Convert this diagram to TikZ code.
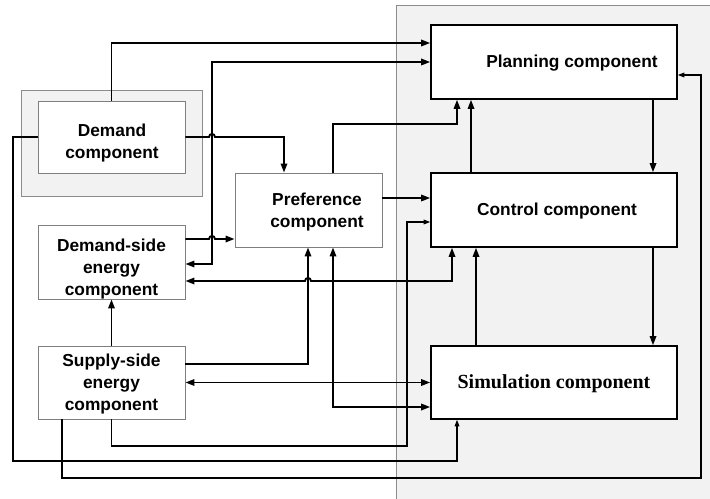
\documentclass[tikz,border=0pt]{standalone}
\usepackage{fontspec}
\setmainfont{Liberation Sans}
\newfontfamily\tms{Liberation Serif}
\usetikzlibrary{arrows.meta,fit}
\definecolor{panelfill}{HTML}{F2F2F2}
\definecolor{panelline}{HTML}{8C8C8C}
\definecolor{boxline}{HTML}{7F7F7F}
\begin{document}
\begin{tikzpicture}[x=0.75pt,y=-0.75pt,
  >={Triangle[length=6.8pt,width=4.8pt]},
  thinbox/.style={draw=boxline,line width=0.6pt,fill=white,inner sep=0pt,align=center,
    font=\fontsize{13}{16}\selectfont\bfseries},
  thickbox/.style={draw=black,line width=1.2pt,fill=white,inner sep=0pt,align=center,
    font=\fontsize{13}{16}\selectfont\bfseries},
  tk/.style={line width=1.4pt},
  tn/.style={line width=0.8pt,>={Triangle[length=5pt,width=3.6pt]}},
  lbl/.style={font=\fontsize{13}{16.5}\selectfont\bfseries,align=center}]
\useasboundingbox (0,0) rectangle (710,499);
% panels
\fill[panelfill] (396,5) rectangle (710,499);
\draw[panelline,line width=0.7pt] (396,499) -- (396,5) -- (710,5);
\filldraw[fill=panelfill,draw=panelline,line width=0.7pt] (21,90) rectangle (202,196);
% boxes
\node[thinbox,fit={(38,101) (185,173)}] (dem) {};
\node[thinbox,fit={(38,225) (185,299)}] (dse) {};
\node[thinbox,fit={(38,346) (185,419)}] (sse) {};
\node[thinbox,fit={(235,173) (382,247)}] (pref) {};
\node[thickbox,fit={(431,25) (677,99)}] (plan) {};
\node[thickbox,fit={(431,173) (677,247)}] (ctrl) {};
\node[thickbox,fit={(431,346) (677,419)}] (sim) {};
% connectors
\draw[tk,->] (dem.north) |- (plan.west |- 0,43);
\draw[tk,<->] (plan.west) -| (212,264) -- (dse.east |- 0,264);
\draw[tk,->] (dem.east) -- (209,137) .. controls +(0,-4) and +(0,-4) .. (215,137) -| (pref.north -| 284,0);
\draw[tk,->] (pref.north -| 333,0) |- (457,124) -- (plan.south -| 457,0);
\draw[tk,->] (ctrl.north -| 471,0) -- (plan.south -| 471,0);
\draw[tk,->] (plan.south -| 653,0) -- (ctrl.north -| 653,0);
\draw[tn,->] (sse.south -| 62,0) |- (701,478) |- (plan.east |- 0,75);
\draw[tn,->] (dem.west) -- (13,137) |- (457,461) -- (sim.south -| 457,0);
\draw[tn,->] (sse.south) |- (407,446) |- (ctrl.west |- 0,222);
\draw[tk,->] (sse.east |- 0,364) -| (pref.south -| 308,0);
\draw[tk,<->] (pref.south -| 333,0) |- (sim.west |- 0,407);
\draw[tk,<->] (sse.east) -- (sim.west);
\draw[tk,<->] (dse.east |- 0,281) -- (305,281) .. controls +(0,-4) and +(0,-4) .. (311,281) -| (ctrl.south -| 452,0);
\draw[tk,->] (sim.north -| 476,0) -- (ctrl.south -| 476,0);
\draw[tk,->] (ctrl.south -| 653,0) -- (sim.north -| 653,0);
\draw[tk,->] (sse.north) -- (dse.south);
\draw[tk,->] (dse.east |- 0,239) -- (209,239) .. controls +(0,-4) and +(0,-4) .. (215,239) -- (pref.west |- 0,239);
\draw[tk,->] (pref.east |- 0,198) -- (ctrl.west |- 0,198);
% texts
\node[lbl,font=\fontsize{13}{16}\selectfont\bfseries] at (112,143) {Demand\\component};
\node[lbl] at (111.5,269) {Demand-side\\energy\\component};
\node[lbl] at (111.5,384) {Supply-side\\energy\\component};
\node[lbl,font=\fontsize{13}{16}\selectfont\bfseries] at (317,212) {Preference\\component};
\node[lbl] at (572,63) {Planning component};
\node[lbl] at (557,211) {Control component};
\node[font=\fontsize{15}{18}\selectfont\tms\bfseries] at (554,384) {Simulation component};
\end{tikzpicture}
\end{document}
